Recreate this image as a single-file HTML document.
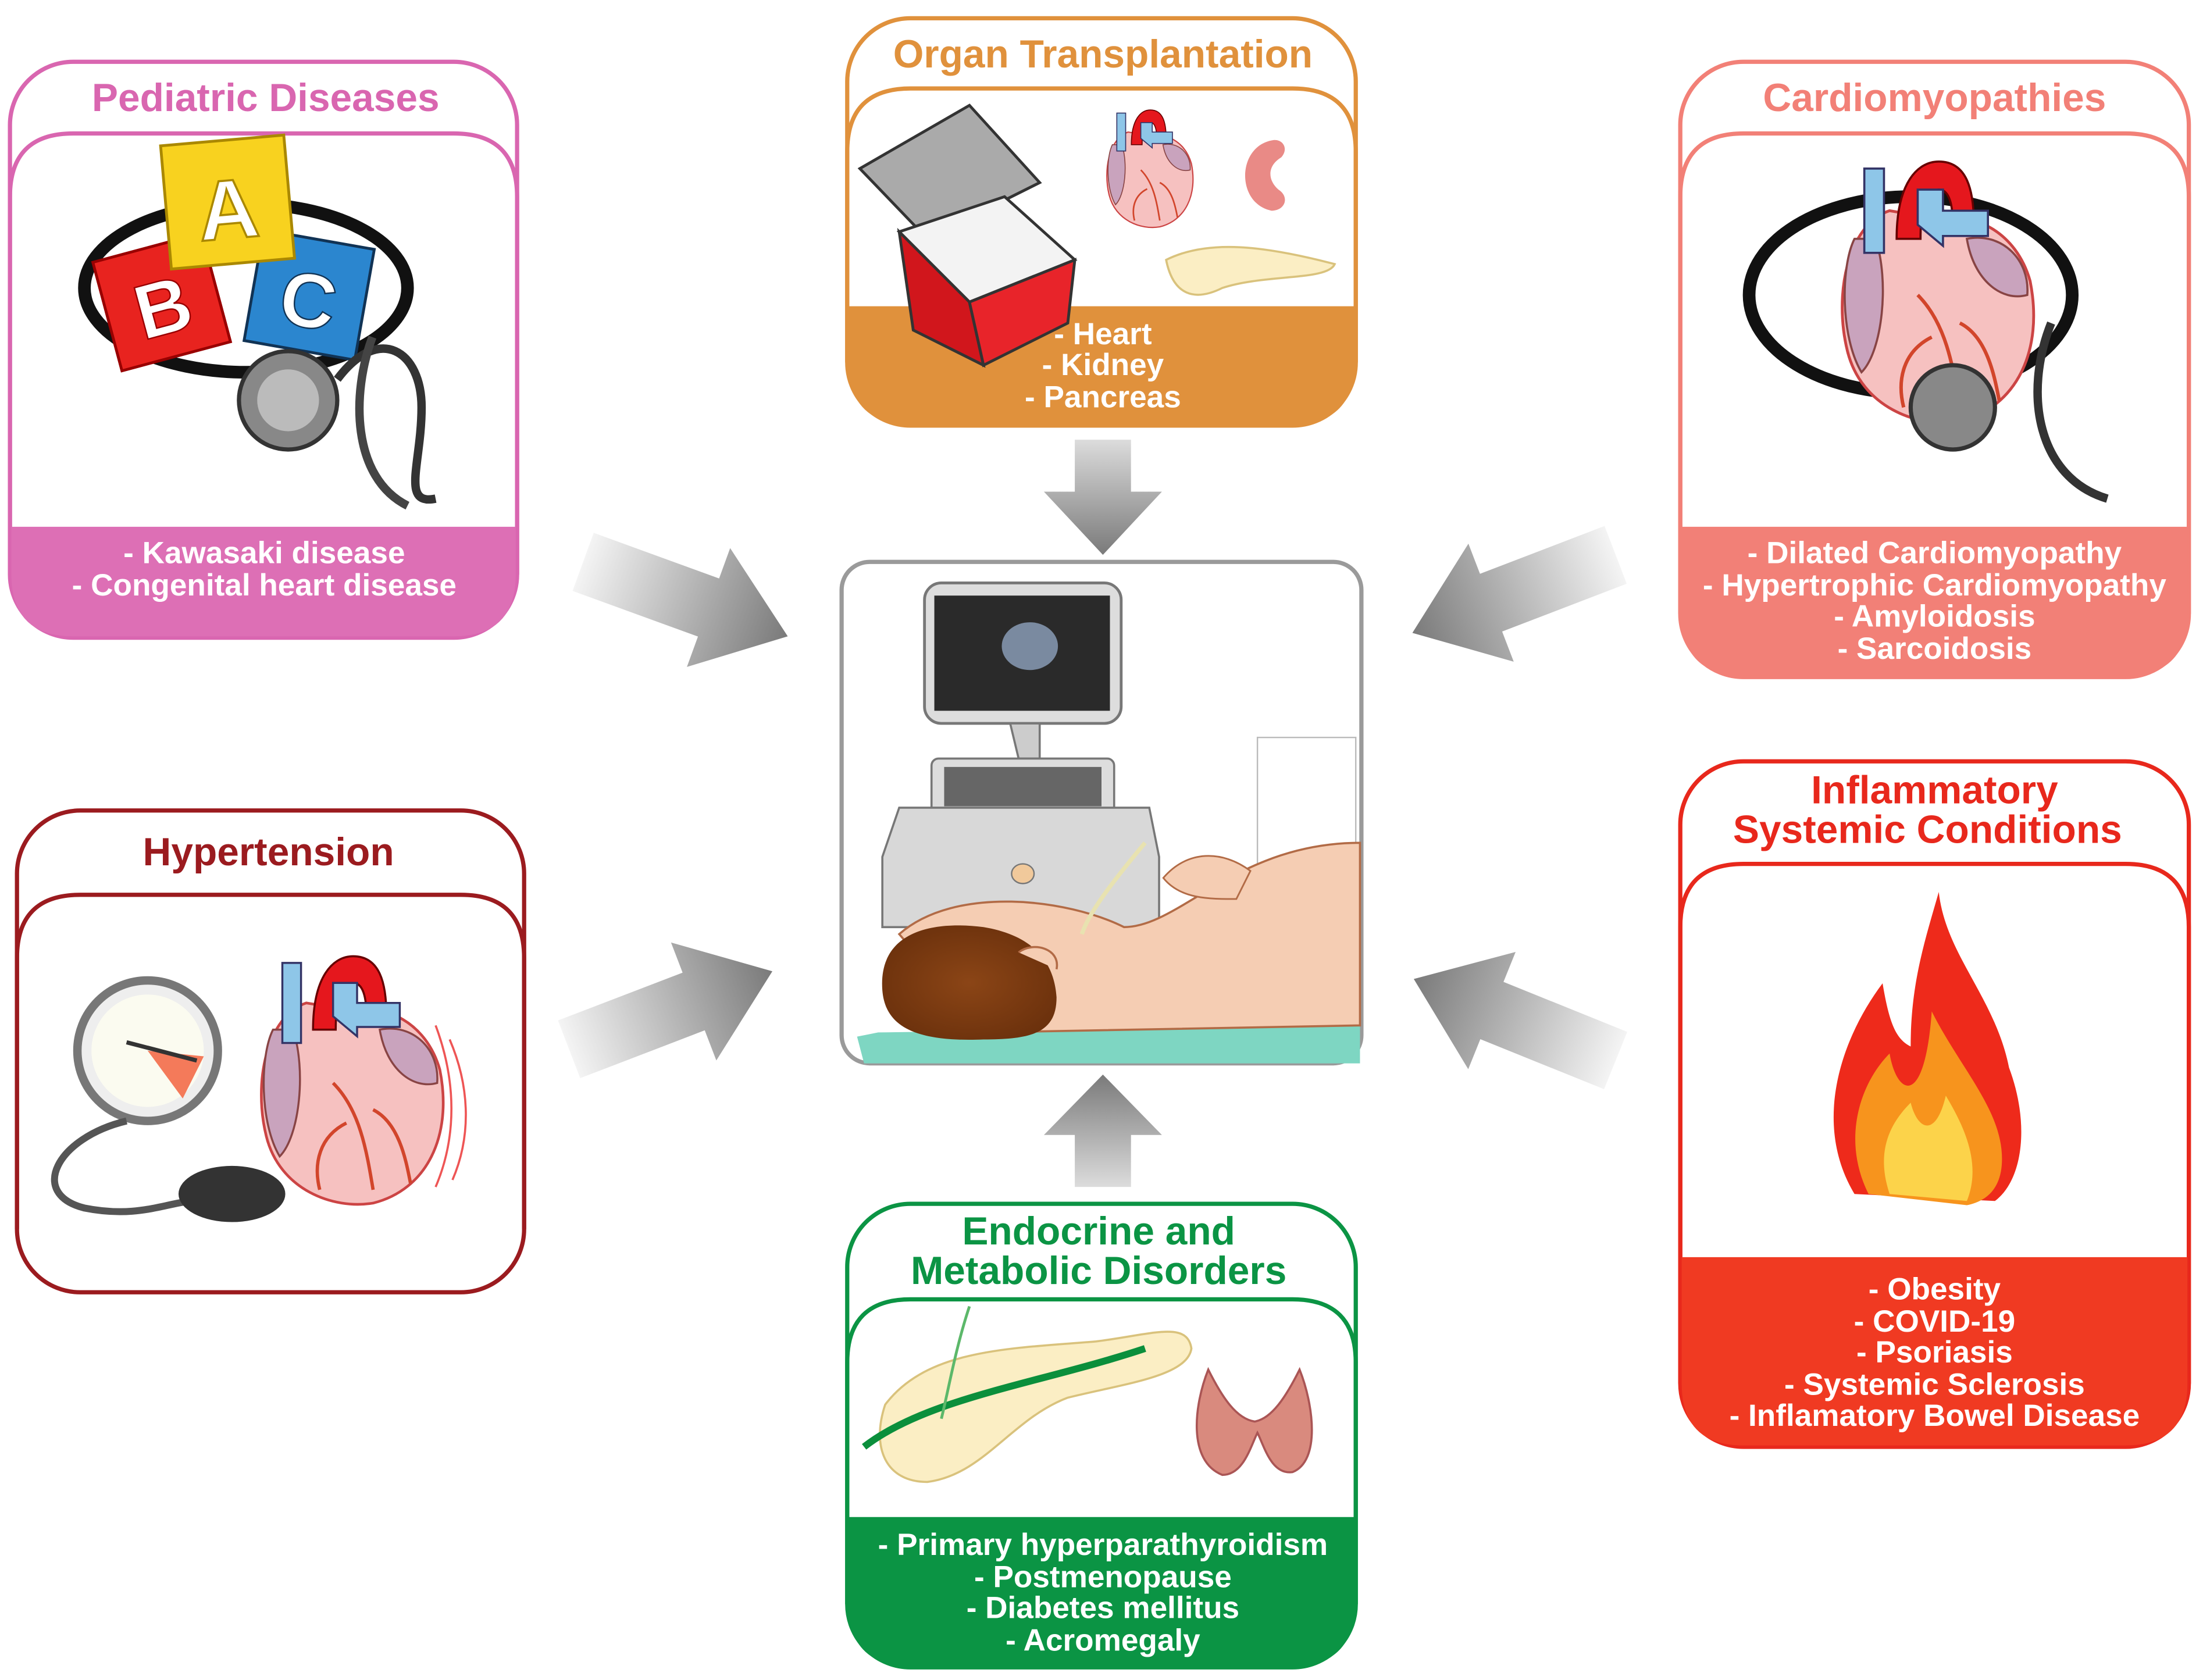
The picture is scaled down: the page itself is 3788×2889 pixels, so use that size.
<!DOCTYPE html>
<html><head><meta charset="utf-8"><style>
html,body{margin:0;padding:0;background:#fff;}
svg{display:block;}
text{font-family:"Liberation Sans",Arial,sans-serif;font-weight:bold;}
</style></head><body>
<svg width="3788" height="2889" viewBox="0 0 1568 1196" xmlns="http://www.w3.org/2000/svg">
<defs>
<linearGradient id="ag" x1="0" y1="0" x2="1" y2="0"><stop offset="0" stop-color="#f4f4f4"/><stop offset="1" stop-color="#7a7a7a"/></linearGradient>
<linearGradient id="agv" x1="0" y1="0" x2="0" y2="1"><stop offset="0" stop-color="#dcdcdc"/><stop offset="1" stop-color="#7a7a7a"/></linearGradient>
<linearGradient id="agu" x1="0" y1="1" x2="0" y2="0"><stop offset="0" stop-color="#dcdcdc"/><stop offset="1" stop-color="#7a7a7a"/></linearGradient>
<radialGradient id="hair" cx="0.5" cy="0.5" r="0.6"><stop offset="0" stop-color="#8b4516"/><stop offset="1" stop-color="#6a300c"/></radialGradient>
<g id="arr"><polygon points="0,-22 95,-22 95,-45 155,0 95,45 95,22 0,22" fill="url(#ag)"/></g>
<g id="heart">
<path d="M40,20 C10,30 0,80 10,120 C20,160 60,175 90,170 C130,160 150,120 140,70 C130,35 100,20 70,25 Z" fill="#f6c1c0" stroke="#c44" stroke-width="2"/>
<path d="M15,40 C5,60 5,110 20,135 C35,120 40,70 30,40 Z" fill="#c9a3bd" stroke="#844" stroke-width="1.5"/>
<path d="M95,40 C120,35 140,55 138,80 C120,85 100,70 95,40Z" fill="#c9a3bd" stroke="#844" stroke-width="1.5"/>
<rect x="22" y="-10" width="14" height="60" fill="#8ec6e8" stroke="#336" stroke-width="1.5"/>
<path d="M45,40 C45,0 60,-15 75,-15 C95,-15 100,5 100,30 L85,30 C85,10 80,5 75,5 C65,5 62,20 62,40Z" fill="#e5171d" stroke="#600" stroke-width="1.5"/>
<path d="M60,30 L60,5 L78,5 L78,20 L110,20 L110,38 L78,38 L78,45Z" fill="#8ec6e8" stroke="#336" stroke-width="1.5"/>
<path d="M60,80 C80,100 85,130 90,160 M90,100 C110,110 115,140 118,155 M70,110 C50,120 45,140 50,160" stroke="#d2452b" stroke-width="2.5" fill="none"/>
</g>
</defs>

<!-- Arrows -->
<polygon points="765,313 805,313 805,350 827,350 785,395 743,350 765,350" fill="url(#agv)"/>
<polygon points="765,845 805,845 805,808 827,808 785,765 743,808 765,808" fill="url(#agu)"/>
<use href="#arr" transform="translate(415,400) rotate(20)"/>
<use href="#arr" transform="translate(405,747) rotate(-21)"/>
<use href="#arr" transform="translate(1150,395) rotate(159)"/>
<use href="#arr" transform="translate(1150,755) rotate(-158)"/>

<!-- Pediatric -->
<rect x="7" y="44" width="361" height="410" rx="45" fill="#fff" stroke="#d966b0" stroke-width="3"/>
<path d="M7,409 L7,140 Q7,95 52,95 L323,95 Q368,95 368,140 L368,409" fill="none" stroke="#d966b0" stroke-width="3"/>
<path d="M8,375 L367,375 L367,409 Q367,453 323,453 L52,453 Q8,453 8,409Z" fill="#dd6fb5"/>
<text x="189" y="79" font-size="28" fill="#d966b0" text-anchor="middle">Pediatric Diseases</text>
<text x="188" y="401" font-size="22" fill="#fff" text-anchor="middle">- Kawasaki disease</text>
<text x="188" y="424" font-size="22" fill="#fff" text-anchor="middle">- Congenital heart disease</text>
<ellipse cx="175" cy="205" rx="115" ry="60" fill="none" stroke="#111" stroke-width="9"/>
<g transform="rotate(-15 115 215)"><rect x="75" y="175" width="80" height="80" fill="#e8231f" stroke="#900" stroke-width="2"/><text x="115" y="238" font-size="55" fill="#fff" text-anchor="middle" stroke="#900" stroke-width="1">B</text></g>
<g transform="rotate(10 220 210)"><rect x="180" y="170" width="80" height="80" fill="#2b86cf" stroke="#135" stroke-width="2"/><text x="220" y="233" font-size="55" fill="#fff" text-anchor="middle" stroke="#135" stroke-width="1">C</text></g>
<g transform="rotate(-5 160 145)"><rect x="118" y="100" width="88" height="88" fill="#f8d21f" stroke="#a80" stroke-width="2"/><text x="162" y="170" font-size="60" fill="#fff" text-anchor="middle" stroke="#a80" stroke-width="1.5">A</text></g>
<circle cx="205" cy="285" r="35" fill="#888" stroke="#333" stroke-width="3"/>
<circle cx="205" cy="285" r="22" fill="#bbb"/>
<path d="M240,270 C270,230 300,250 300,290 C300,330 285,360 310,355" stroke="#333" stroke-width="6" fill="none"/>
<path d="M265,240 C250,280 250,340 290,360" stroke="#444" stroke-width="6" fill="none"/>

<!-- Organ Transplantation -->
<rect x="603" y="13" width="362" height="290" rx="45" fill="#fff" stroke="#e0913c" stroke-width="3"/>
<path d="M603,258 L603,108 Q603,63 648,63 L920,63 Q965,63 965,108 L965,258" fill="none" stroke="#e0913c" stroke-width="3"/>
<path d="M604,218 L964,218 L964,258 Q964,302 920,302 L648,302 Q604,302 604,258Z" fill="#e0913c"/>
<text x="785" y="48" font-size="28" fill="#e0913c" text-anchor="middle">Organ Transplantation</text>
<text x="785" y="245" font-size="22" fill="#fff" text-anchor="middle">- Heart</text>
<text x="785" y="267" font-size="22" fill="#fff" text-anchor="middle">- Kidney</text>
<text x="785" y="290" font-size="22" fill="#fff" text-anchor="middle">- Pancreas</text>
<polygon points="612,120 690,75 740,130 660,170" fill="#aaa" stroke="#333" stroke-width="2"/>
<polygon points="640,165 715,140 765,185 690,215" fill="#f3f3f3" stroke="#333" stroke-width="2"/>
<polygon points="640,165 690,215 700,260 650,235" fill="#d1161c" stroke="#333" stroke-width="2"/>
<polygon points="690,215 765,185 760,230 700,260" fill="#e8242a" stroke="#333" stroke-width="2"/>
<use href="#heart" transform="translate(785,85) scale(0.45)"/>
<path d="M905,100 C880,105 880,145 905,150 C915,150 918,140 910,135 C902,128 902,118 912,112 C918,105 912,98 905,100Z" fill="#e98a86"/>
<path d="M830,185 C860,170 900,175 950,188 C945,200 900,195 870,205 C850,215 835,210 830,185Z" fill="#fbeec4" stroke="#d9c27c" stroke-width="1.5"/>

<!-- Cardiomyopathies -->
<rect x="1196" y="44" width="362" height="438" rx="45" fill="#fff" stroke="#f28077" stroke-width="3"/>
<path d="M1196,437 L1196,140 Q1196,95 1241,95 L1513,95 Q1558,95 1558,140 L1558,437" fill="none" stroke="#f28077" stroke-width="3"/>
<path d="M1197,375 L1557,375 L1557,437 Q1557,481 1513,481 L1241,481 Q1197,481 1197,437Z" fill="#f28077"/>
<text x="1377" y="79" font-size="28" fill="#f28077" text-anchor="middle">Cardiomyopathies</text>
<text x="1377" y="401" font-size="22" fill="#fff" text-anchor="middle">- Dilated Cardiomyopathy</text>
<text x="1377" y="424" font-size="22" fill="#fff" text-anchor="middle">- Hypertrophic Cardiomyopathy</text>
<text x="1377" y="446" font-size="22" fill="#fff" text-anchor="middle">- Amyloidosis</text>
<text x="1377" y="469" font-size="22" fill="#fff" text-anchor="middle">- Sarcoidosis</text>
<ellipse cx="1360" cy="210" rx="115" ry="70" fill="none" stroke="#111" stroke-width="9"/>
<use href="#heart" transform="translate(1305,130) scale(1.0)"/>
<circle cx="1390" cy="290" r="30" fill="#888" stroke="#333" stroke-width="3"/>
<path d="M1460,230 C1440,280 1450,340 1500,355" stroke="#333" stroke-width="6" fill="none"/>

<!-- Hypertension -->
<rect x="12" y="577" width="361" height="343" rx="45" fill="#fff" stroke="#9b1b1f" stroke-width="3"/>
<path d="M12,875 L12,682 Q12,637 57,637 L328,637 Q373,637 373,682 L373,875" fill="none" stroke="#9b1b1f" stroke-width="3"/>
<text x="191" y="616" font-size="28" fill="#9b1b1f" text-anchor="middle">Hypertension</text>
<circle cx="105" cy="748" r="50" fill="#eee" stroke="#777" stroke-width="6"/>
<circle cx="105" cy="748" r="40" fill="#fbfbf0"/>
<polygon points="105,748 145,752 130,782" fill="#f47a5a"/>
<line x1="90" y1="742" x2="140" y2="755" stroke="#333" stroke-width="3"/>
<path d="M90,798 C40,810 20,850 60,860 C100,868 120,855 140,855" stroke="#555" stroke-width="5" fill="none"/>
<ellipse cx="165" cy="850" rx="38" ry="20" fill="#333"/>
<use href="#heart" transform="translate(180,695) scale(0.95)"/>
<path d="M310,730 C325,770 325,810 310,845 M320,740 C335,775 335,810 322,840" stroke="#e55" stroke-width="1.5" fill="none"/>

<!-- Inflammatory -->
<rect x="1196" y="542" width="362" height="488" rx="45" fill="#fff" stroke="#e8281c" stroke-width="3"/>
<path d="M1196,985 L1196,660 Q1196,615 1241,615 L1513,615 Q1558,615 1558,660 L1558,985" fill="none" stroke="#e8281c" stroke-width="3"/>
<path d="M1197,895 L1557,895 L1557,985 Q1557,1029 1513,1029 L1241,1029 Q1197,1029 1197,985Z" fill="#f03a22"/>
<text x="1377" y="572" font-size="28" fill="#e8281c" text-anchor="middle">Inflammatory</text>
<text x="1372" y="600" font-size="28" fill="#e8281c" text-anchor="middle">Systemic Conditions</text>
<text x="1377" y="925" font-size="22" fill="#fff" text-anchor="middle">- Obesity</text>
<text x="1377" y="948" font-size="22" fill="#fff" text-anchor="middle">- COVID-19</text>
<text x="1377" y="970" font-size="22" fill="#fff" text-anchor="middle">- Psoriasis</text>
<text x="1377" y="993" font-size="22" fill="#fff" text-anchor="middle">- Systemic Sclerosis</text>
<text x="1377" y="1015" font-size="22" fill="#fff" text-anchor="middle">- Inflamatory Bowel Disease</text>
<path d="M1320,850 C1290,800 1310,740 1340,700 C1345,730 1350,740 1360,745 C1360,700 1370,670 1380,635 C1385,680 1420,710 1430,760 C1445,800 1440,840 1420,855 Z" fill="#ee2a1b"/>
<path d="M1330,850 C1310,810 1325,770 1345,750 C1350,780 1370,790 1375,720 C1395,760 1425,790 1425,825 C1425,845 1415,855 1400,858Z" fill="#f7941d"/>
<path d="M1345,850 C1335,820 1345,800 1360,785 C1365,805 1378,810 1385,780 C1400,805 1410,830 1400,855Z" fill="#fcd34a"/>

<!-- Endocrine -->
<rect x="603" y="857" width="362" height="330" rx="45" fill="#fff" stroke="#0b9444" stroke-width="3"/>
<path d="M603,1142 L603,970 Q603,925 648,925 L920,925 Q965,925 965,970 L965,1142" fill="none" stroke="#0b9444" stroke-width="3"/>
<path d="M604,1080 L964,1080 L964,1142 Q964,1186 920,1186 L648,1186 Q604,1186 604,1142Z" fill="#0b9444"/>
<text x="782" y="886" font-size="28" fill="#0b9444" text-anchor="middle">Endocrine and</text>
<text x="782" y="914" font-size="28" fill="#0b9444" text-anchor="middle">Metabolic Disorders</text>
<text x="785" y="1107" font-size="22" fill="#fff" text-anchor="middle">- Primary hyperparathyroidism</text>
<text x="785" y="1130" font-size="22" fill="#fff" text-anchor="middle">- Postmenopause</text>
<text x="785" y="1152" font-size="22" fill="#fff" text-anchor="middle">- Diabetes mellitus</text>
<text x="785" y="1175" font-size="22" fill="#fff" text-anchor="middle">- Acromegaly</text>
<path d="M630,1000 C660,960 720,960 780,955 C820,950 845,940 848,960 C845,980 800,985 760,995 C720,1010 700,1050 660,1055 C630,1055 620,1030 630,1000Z" fill="#fbeec4" stroke="#d9c27c" stroke-width="1.5"/>
<path d="M615,1030 C660,995 740,985 815,960" stroke="#0b8f3c" stroke-width="5" fill="none"/>
<path d="M690,930 C680,960 675,990 670,1010" stroke="#5cb86a" stroke-width="2" fill="none"/>
<path d="M860,975 C850,1000 845,1040 870,1050 C885,1050 890,1030 895,1020 C900,1030 905,1050 920,1048 C940,1040 935,1000 925,975 C915,995 905,1010 893,1012 C880,1010 870,995 860,975Z" fill="#d98a7e" stroke="#a55" stroke-width="1.5"/>

<!-- Center -->
<rect x="599" y="400" width="370" height="357" rx="20" fill="#fff" stroke="#9a9a9a" stroke-width="3"/>
<rect x="658" y="415" width="140" height="100" rx="12" fill="#ddd" stroke="#777" stroke-width="2"/>
<rect x="665" y="424" width="125" height="82" fill="#2a2a2a"/>
<ellipse cx="733" cy="460" rx="20" ry="17" fill="#7a8aa0"/>
<polygon points="719,515 740,515 740,540 725,540" fill="#ccc" stroke="#777" stroke-width="1.5"/>
<rect x="663" y="540" width="130" height="40" rx="5" fill="#ddd" stroke="#777" stroke-width="1.5"/>
<rect x="672" y="546" width="112" height="28" fill="#666"/>
<path d="M628,610 L640,575 L818,575 L825,610 L825,660 L628,660Z" fill="#d8d8d8" stroke="#777" stroke-width="1.5"/>
<ellipse cx="728" cy="622" rx="8" ry="7" fill="#f1c99b" stroke="#777"/>
<rect x="895" y="525" width="70" height="90" fill="#fff" stroke="#bbb" stroke-width="1"/>
<path d="M610,738 L625,735 L968,730 L968,757 L615,757Z" fill="#7ed6c2"/>
<path d="M640,665 C680,630 760,640 800,660 C840,660 880,600 968,600 L968,730 L700,735 Z" fill="#f5cdb3" stroke="#b26b46" stroke-width="1.5"/>
<path d="M828,625 C845,605 870,605 890,620 L880,640 C860,640 840,640 828,625Z" fill="#f5cdb3" stroke="#b26b46" stroke-width="1.2"/>
<path d="M815,600 C790,630 775,650 770,665" stroke="#e8e2b0" stroke-width="3" fill="none"/>
<path d="M628,705 C625,665 660,655 700,660 C730,665 750,680 752,710 C752,735 735,740 700,740 C650,742 630,730 628,705Z" fill="url(#hair)"/>
<path d="M725,678 C735,670 755,675 752,690" stroke="#b26b46" stroke-width="1.5" fill="#f5cdb3"/>
</svg>
</body></html>
